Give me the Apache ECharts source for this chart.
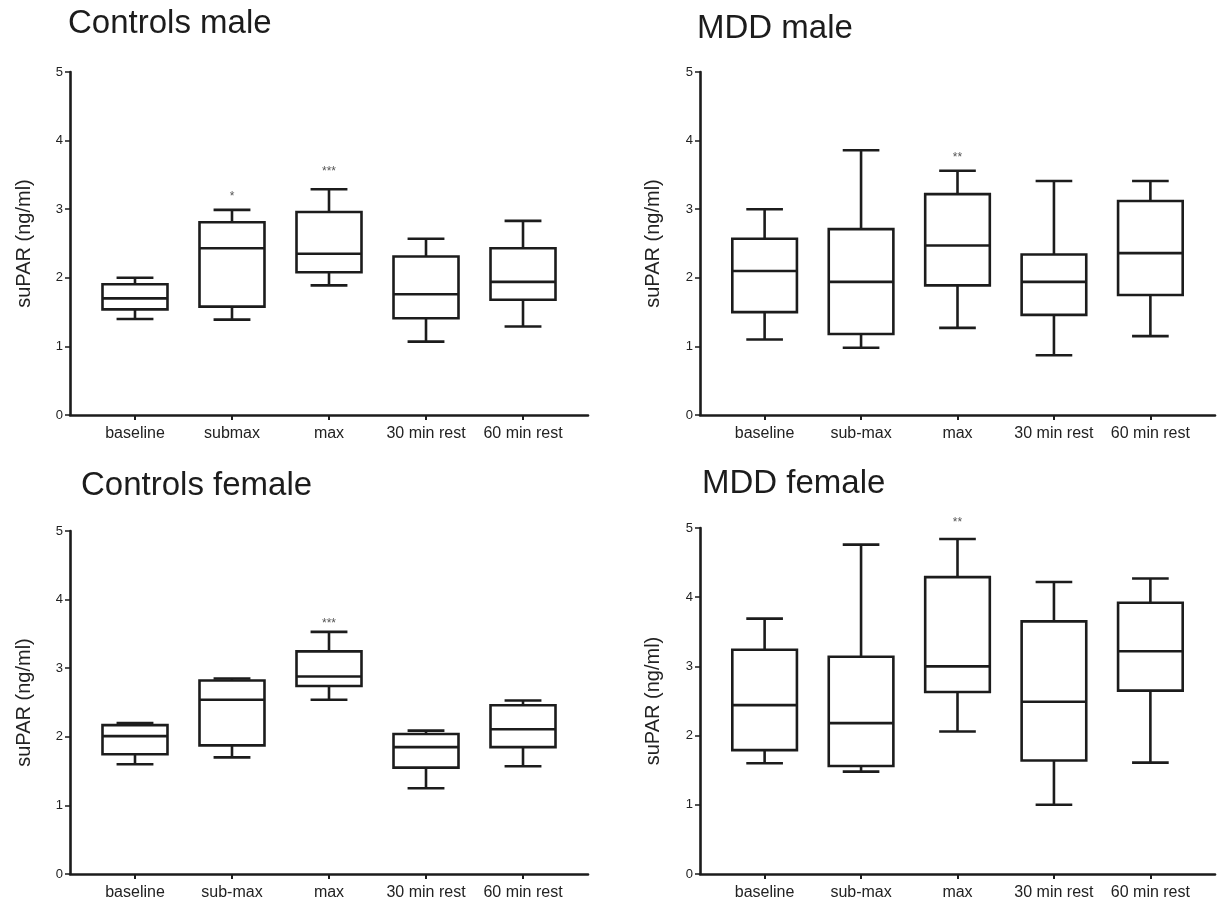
<!DOCTYPE html>
<html><head><meta charset="utf-8">
<script src="https://cdn.jsdelivr.net/npm/echarts@6/dist/echarts.min.js"></script>
<style>html,body{margin:0;padding:0;background:#fff}#c{width:1218px;height:901px}</style>
</head><body><div id="c"></div>
<script>
// ---- categories / ticks ----
const catsControlsMale = ['baseline', 'submax', 'max', '30 min rest', '60 min rest'];
const catsOther = ['baseline', 'sub-max', 'max', '30 min rest', '60 min rest'];
const yTicks = [0, 1, 2, 3, 4, 5];
const panelTitles = ['Controls male', 'MDD male', 'Controls female', 'MDD female'];

// ---- Controls male ----
const cmLow  = [1.40, 1.39, 1.89, 1.07, 1.29];
const cmQ1   = [1.54, 1.58, 2.08, 1.41, 1.68];
const cmMed  = [1.70, 2.43, 2.35, 1.76, 1.94];
const cmQ3   = [1.905, 2.81, 2.96, 2.31, 2.43];
const cmHigh = [2.00, 2.99, 3.29, 2.57, 2.83];
const cmSig  = ['', '*', '***', '', ''];
const cmSigY = [null, 3.18, 3.55, null, null];

// ---- MDD male ----
const mmLow  = [1.10, 0.98, 1.27, 0.87, 1.15];
const mmQ1   = [1.50, 1.18, 1.89, 1.46, 1.75];
const mmMed  = [2.10, 1.94, 2.47, 1.94, 2.36];
const mmQ3   = [2.57, 2.71, 3.22, 2.34, 3.12];
const mmHigh = [3.00, 3.86, 3.56, 3.41, 3.41];
const mmSig  = ['', '', '**', '', ''];
const mmSigY = [null, null, 3.75, null, null];

// ---- Controls female ----
const cfLow  = [1.60, 1.70, 2.54, 1.25, 1.57];
const cfQ1   = [1.745, 1.875, 2.74, 1.55, 1.85];
const cfMed  = [2.01, 2.54, 2.88, 1.85, 2.11];
const cfQ3   = [2.17, 2.82, 3.245, 2.04, 2.46];
const cfHigh = [2.20, 2.85, 3.53, 2.09, 2.53];
const cfSig  = ['', '', '***', '', ''];
const cfSigY = [null, null, 3.65, null, null];

// ---- MDD female ----
const mfLow  = [1.60, 1.48, 2.06, 1.00, 1.61];
const mfQ1   = [1.79, 1.56, 2.63, 1.64, 2.65];
const mfMed  = [2.44, 2.18, 3.00, 2.49, 3.22];
const mfQ3   = [3.24, 3.14, 4.29, 3.65, 3.92];
const mfHigh = [3.69, 4.76, 4.84, 4.22, 4.27];
const mfSig  = ['', '', '**', '', ''];
const mfSigY = [null, null, 5.07, null, null];

const FONT = '"Liberation Sans", Arial, Helvetica, sans-serif';
const INK = '#1c1c1c';

const panels = [
  {cats: catsControlsMale, low: cmLow, q1: cmQ1, med: cmMed, q3: cmQ3, high: cmHigh, sig: cmSig, sigY: cmSigY,
   grid: {left: 70, top: 72, width: 518, height: 343}, title: {left: 68, top: 7}, nameGap: 36},
  {cats: catsOther, low: mmLow, q1: mmQ1, med: mmMed, q3: mmQ3, high: mmHigh, sig: mmSig, sigY: mmSigY,
   grid: {left: 700, top: 72, width: 515, height: 343}, title: {left: 697, top: 12}, nameGap: 37},
  {cats: catsOther, low: cfLow, q1: cfQ1, med: cfMed, q3: cfQ3, high: cfHigh, sig: cfSig, sigY: cfSigY,
   grid: {left: 70, top: 531, width: 518, height: 344}, title: {left: 81, top: 469}, nameGap: 36},
  {cats: catsOther, low: mfLow, q1: mfQ1, med: mfMed, q3: mfQ3, high: mfHigh, sig: mfSig, sigY: mfSigY,
   grid: {left: 700, top: 528, width: 515, height: 346}, title: {left: 702, top: 467}, nameGap: 37}
];

function boxRender(params, api) {
  const x = api.value(0);
  const lo = api.coord([x, api.value(1)]);
  const q1 = api.coord([x, api.value(2)]);
  const md = api.coord([x, api.value(3)]);
  const q3 = api.coord([x, api.value(4)]);
  const hi = api.coord([x, api.value(5)]);
  const unit = api.size([1, 0])[0];
  const bh = unit * 0.335, ch = unit * 0.19;
  const cx = md[0];
  const st = {stroke: INK, lineWidth: 2.6, fill: null};
  return {type: 'group', children: [
    {type: 'rect', shape: {x: cx - bh, y: q3[1], width: 2 * bh, height: q1[1] - q3[1]}, style: {stroke: INK, lineWidth: 2.6, fill: 'rgba(0,0,0,0)'}},
    {type: 'line', shape: {x1: cx - bh, y1: md[1], x2: cx + bh, y2: md[1]}, style: st},
    {type: 'line', shape: {x1: cx, y1: q3[1], x2: cx, y2: hi[1]}, style: st},
    {type: 'line', shape: {x1: cx, y1: q1[1], x2: cx, y2: lo[1]}, style: st},
    {type: 'line', shape: {x1: cx - ch, y1: hi[1], x2: cx + ch, y2: hi[1]}, style: st},
    {type: 'line', shape: {x1: cx - ch, y1: lo[1], x2: cx + ch, y2: lo[1]}, style: st}
  ]};
}

const option = {
  backgroundColor: '#fff',
  animation: false,
  title: [], grid: [], xAxis: [], yAxis: [], series: []
};

panels.forEach((p, i) => {
  option.title.push({
    text: panelTitles[i], left: p.title.left, top: p.title.top, padding: 0,
    textStyle: {fontFamily: FONT, fontSize: 33, fontWeight: 'normal', color: INK}
  });
  option.grid.push(Object.assign({containLabel: false}, p.grid));
  option.xAxis.push({
    type: 'value', gridIndex: i, min: 0.33, max: 5.67,
    splitLine: {show: false},
    axisLine: {show: true, lineStyle: {color: INK, width: 2.6}},
    axisTick: {show: true, customValues: [1, 2, 3, 4, 5], length: 5, lineStyle: {color: INK, width: 2}},
    axisLabel: {
      customValues: [1, 2, 3, 4, 5], margin: 11,
      fontFamily: FONT, fontSize: 16, color: '#222',
      formatter: v => p.cats[Math.round(v) - 1] || ''
    }
  });
  option.yAxis.push({
    type: 'value', gridIndex: i, min: yTicks[0], max: yTicks[yTicks.length - 1], interval: 1,
    name: 'suPAR (ng/ml)', nameLocation: 'middle', nameGap: p.nameGap,
    nameTextStyle: {fontFamily: FONT, fontSize: 20, color: '#222'},
    splitLine: {show: false},
    axisLine: {show: true, lineStyle: {color: INK, width: 2.6}},
    axisTick: {show: true, length: 5, lineStyle: {color: INK, width: 1.5}},
    axisLabel: {margin: 7, fontFamily: FONT, fontSize: 13, color: '#222'}
  });
  const data = p.cats.map((c, k) => [k + 1, p.low[k], p.q1[k], p.med[k], p.q3[k], p.high[k]]);
  option.series.push({
    type: 'custom', xAxisIndex: i, yAxisIndex: i, clip: false,
    renderItem: boxRender,
    encode: {x: 0, y: [1, 2, 3, 4, 5]},
    data: data
  });
  const sigIdx = p.sig.map((s, k) => s ? k : -1).filter(k => k >= 0);
  option.series.push({
    type: 'custom', xAxisIndex: i, yAxisIndex: i, clip: false,
    encode: {x: 0, y: 1},
    data: sigIdx.map(k => [k + 1, p.sigY[k]]),
    renderItem: (params, api) => {
      const pt = api.coord([api.value(0), api.value(1)]);
      return {type: 'text', x: pt[0], y: pt[1], style: {
        text: p.sig[sigIdx[params.dataIndex]], fontFamily: FONT, fontSize: 12,
        fill: '#555', align: 'center', verticalAlign: 'middle'}};
    }
  });
});

const chart = echarts.init(document.getElementById('c'), null, {renderer: 'canvas'});
chart.setOption(option);
</script>
</body></html>
